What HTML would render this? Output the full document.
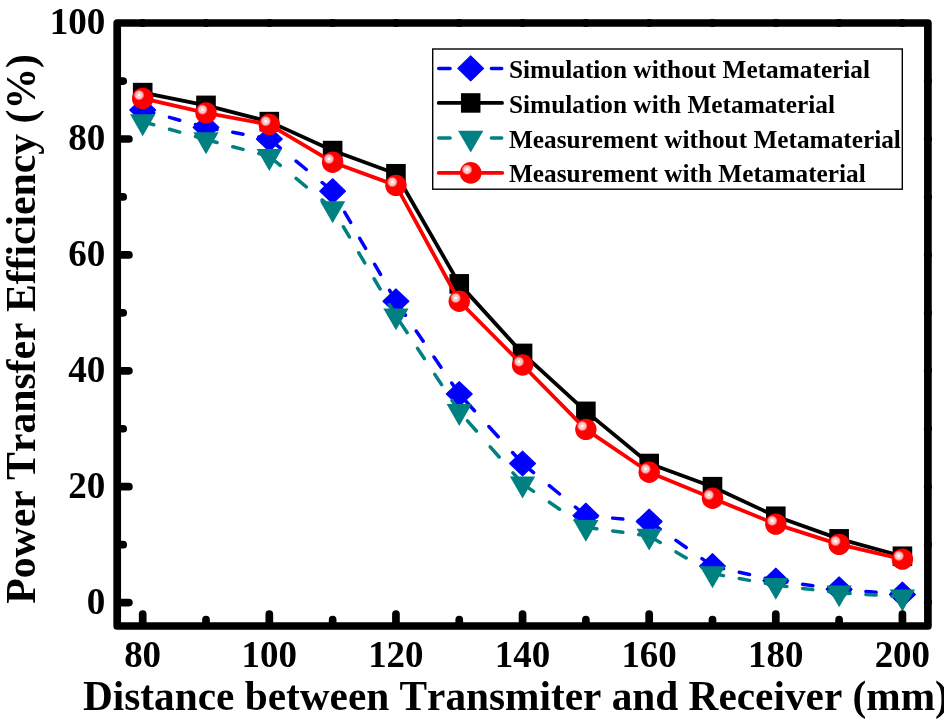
<!DOCTYPE html><html><head><meta charset="utf-8"><style>html,body{margin:0;padding:0;background:#fff;width:944px;height:724px;overflow:hidden}svg{display:block;will-change:transform}text{font-family:"Liberation Serif",serif;font-weight:bold;font-variant-ligatures:none;font-kerning:none}</style></head><body>
<svg width="944" height="724" viewBox="0 0 944 724">
<defs><radialGradient id="hl"><stop offset="0" stop-color="#fff"/><stop offset="0.2" stop-color="#fff"/><stop offset="0.35" stop-color="#ffc0c0"/><stop offset="0.55" stop-color="#ffd0d0"/><stop offset="0.75" stop-color="#ff8c8c"/><stop offset="1" stop-color="#ff0000"/></radialGradient></defs>
<rect width="944" height="724" fill="#fff"/>
<path d="M143.50 110.24L153.70 113.05M169.50 117.38L179.70 120.19M195.50 124.52L205.70 127.32M206.81 127.56L217.01 129.42M232.81 132.32L243.01 134.18M258.81 137.08L269.01 138.94M270.12 139.66L280.32 148.06M296.12 161.08L306.32 169.48M322.12 182.50L332.32 190.90M395.48 300.46L389.62 290.26M380.53 274.46L374.67 264.26M365.58 248.46L359.72 238.26M350.63 222.46L344.77 212.26M335.68 196.46L332.63 191.16M458.70 393.18L451.74 382.98M440.95 367.18L433.99 356.98M423.20 341.18L416.23 330.98M405.44 315.18L398.48 304.98M521.83 462.72L512.55 452.52M498.16 436.72L488.87 426.52M474.49 410.72L465.20 400.52M523.36 464.18L533.56 472.58M549.36 485.60L559.56 494.00M575.36 507.02L585.56 515.42M586.67 515.75L596.87 516.68M612.67 518.13L622.87 519.06M638.67 520.51L648.87 521.44M649.98 522.03L660.18 529.22M675.98 540.36L686.18 547.55M701.98 558.68L712.18 565.87M713.29 566.27L723.49 568.61M739.29 572.22L749.49 574.56M765.29 578.17L775.49 580.51M776.60 580.69L786.80 582.09M802.60 584.26L812.80 585.66M828.60 587.83L838.80 589.23M839.91 589.34L850.11 590.18M865.91 591.48L876.11 592.32M891.91 593.62L902.11 594.46" fill="none" stroke="#0000ff" stroke-width="3.5" stroke-linecap="round"/>
<path d="M142.70 97.64L155.60 110.03L142.70 122.41L129.80 110.03Z" fill="#0000ff" stroke="#0000ff" stroke-width="1.2" stroke-linejoin="round"/>
<path d="M206.01 115.03L218.91 127.41L206.01 139.79L193.11 127.41Z" fill="#0000ff" stroke="#0000ff" stroke-width="1.2" stroke-linejoin="round"/>
<path d="M269.32 126.62L282.22 139.00L269.32 151.38L256.42 139.00Z" fill="#0000ff" stroke="#0000ff" stroke-width="1.2" stroke-linejoin="round"/>
<path d="M332.63 178.77L345.53 191.16L332.63 203.54L319.73 191.16Z" fill="#0000ff" stroke="#0000ff" stroke-width="1.2" stroke-linejoin="round"/>
<path d="M395.94 288.88L408.84 301.26L395.94 313.64L383.04 301.26Z" fill="#0000ff" stroke="#0000ff" stroke-width="1.2" stroke-linejoin="round"/>
<path d="M459.25 381.60L472.15 393.98L459.25 406.36L446.35 393.98Z" fill="#0000ff" stroke="#0000ff" stroke-width="1.2" stroke-linejoin="round"/>
<path d="M522.56 451.14L535.46 463.52L522.56 475.90L509.66 463.52Z" fill="#0000ff" stroke="#0000ff" stroke-width="1.2" stroke-linejoin="round"/>
<path d="M585.87 503.29L598.77 515.68L585.87 528.06L572.97 515.68Z" fill="#0000ff" stroke="#0000ff" stroke-width="1.2" stroke-linejoin="round"/>
<path d="M649.18 509.09L662.08 521.47L649.18 533.85L636.28 521.47Z" fill="#0000ff" stroke="#0000ff" stroke-width="1.2" stroke-linejoin="round"/>
<path d="M712.49 553.71L725.39 566.09L712.49 578.48L699.59 566.09Z" fill="#0000ff" stroke="#0000ff" stroke-width="1.2" stroke-linejoin="round"/>
<path d="M775.80 568.20L788.70 580.58L775.80 592.96L762.90 580.58Z" fill="#0000ff" stroke="#0000ff" stroke-width="1.2" stroke-linejoin="round"/>
<path d="M839.11 576.89L852.01 589.27L839.11 601.66L826.21 589.27Z" fill="#0000ff" stroke="#0000ff" stroke-width="1.2" stroke-linejoin="round"/>
<path d="M902.42 582.10L915.32 594.49L902.42 606.87L889.52 594.49Z" fill="#0000ff" stroke="#0000ff" stroke-width="1.2" stroke-linejoin="round"/>
<polyline points="142.70,92.64 206.01,105.39 269.32,121.62 332.63,150.59 395.94,173.77 459.25,283.88 522.56,353.42 585.87,411.37 649.18,463.52 712.49,486.70 775.80,516.25 839.11,538.86 902.42,556.24" fill="none" stroke="#000" stroke-width="3.8" stroke-linejoin="round"/>
<rect x="132.90" y="82.84" width="19.6" height="19.6" fill="#000"/>
<rect x="196.21" y="95.59" width="19.6" height="19.6" fill="#000"/>
<rect x="259.52" y="111.82" width="19.6" height="19.6" fill="#000"/>
<rect x="322.83" y="140.79" width="19.6" height="19.6" fill="#000"/>
<rect x="386.14" y="163.97" width="19.6" height="19.6" fill="#000"/>
<rect x="449.45" y="274.07" width="19.6" height="19.6" fill="#000"/>
<rect x="512.76" y="343.62" width="19.6" height="19.6" fill="#000"/>
<rect x="576.07" y="401.56" width="19.6" height="19.6" fill="#000"/>
<rect x="639.38" y="453.72" width="19.6" height="19.6" fill="#000"/>
<rect x="702.69" y="476.90" width="19.6" height="19.6" fill="#000"/>
<rect x="766.00" y="506.45" width="19.6" height="19.6" fill="#000"/>
<rect x="829.31" y="529.06" width="19.6" height="19.6" fill="#000"/>
<rect x="892.62" y="546.44" width="19.6" height="19.6" fill="#000"/>
<path d="M143.50 121.84L153.70 124.74M169.50 129.22L179.70 132.11M195.50 136.60L205.70 139.49M206.81 139.79L217.01 142.50M232.81 146.69L243.01 149.40M258.81 153.60L269.01 156.30M270.12 157.04L280.32 165.45M296.12 178.46L306.32 186.87M322.12 199.88L332.32 208.28M395.47 314.95L389.44 304.75M380.11 288.95L374.09 278.75M364.76 262.95L358.74 252.75M349.41 236.95L343.38 226.75M334.05 210.95L332.63 208.54M458.72 410.56L451.97 400.37M441.51 384.56L434.75 374.37M424.29 358.56L417.54 348.37M407.08 332.56L400.32 322.37M521.86 483.00L512.95 472.80M499.14 457.00L490.22 446.80M476.41 431.00L467.50 420.80M523.36 484.35L533.56 491.35M549.36 502.20L559.56 509.20M575.36 520.05L585.56 527.05M586.67 527.37L596.87 528.78M612.67 530.94L622.87 532.35M638.67 534.51L648.87 535.91M649.98 536.43L660.18 542.50M675.98 551.90L686.18 557.97M701.98 567.37L712.18 573.44M713.29 573.77L723.49 575.64M739.29 578.53L749.49 580.40M765.29 583.29L775.49 585.16M776.60 585.31L786.80 586.52M802.60 588.40L812.80 589.62M828.60 591.50L838.80 592.71M839.91 592.80L850.11 593.45M865.91 594.47L876.11 595.12M891.91 596.13L902.11 596.79" fill="none" stroke="#008080" stroke-width="3.5" stroke-linecap="round"/>
<path d="M130.06 114.32L155.34 114.32L142.70 136.22Z" fill="#008080"/>
<path d="M193.37 132.28L218.65 132.28L206.01 154.18Z" fill="#008080"/>
<path d="M256.68 149.09L281.96 149.09L269.32 170.99Z" fill="#008080"/>
<path d="M319.99 201.24L345.27 201.24L332.63 223.14Z" fill="#008080"/>
<path d="M383.30 308.45L408.58 308.45L395.94 330.35Z" fill="#008080"/>
<path d="M446.61 404.06L471.89 404.06L459.25 425.97Z" fill="#008080"/>
<path d="M509.92 476.50L535.20 476.50L522.56 498.40Z" fill="#008080"/>
<path d="M573.23 519.97L598.51 519.97L585.87 541.87Z" fill="#008080"/>
<path d="M636.54 528.66L661.82 528.66L649.18 550.56Z" fill="#008080"/>
<path d="M699.85 566.33L725.13 566.33L712.49 588.23Z" fill="#008080"/>
<path d="M763.16 577.92L788.44 577.92L775.80 599.82Z" fill="#008080"/>
<path d="M826.47 585.45L851.75 585.45L839.11 607.35Z" fill="#008080"/>
<path d="M889.78 589.51L915.06 589.51L902.42 611.41Z" fill="#008080"/>
<polyline points="142.70,98.44 206.01,112.92 269.32,124.51 332.63,162.18 395.94,185.36 459.25,301.26 522.56,365.00 585.87,429.33 649.18,472.21 712.49,498.29 775.80,524.08 839.11,544.36 902.42,559.14" fill="none" stroke="#ff0000" stroke-width="3.8" stroke-linejoin="round"/>
<circle cx="142.70" cy="98.44" r="10.7" fill="#ff0000"/><circle cx="139.10" cy="95.14" r="5.4" fill="url(#hl)"/>
<circle cx="206.01" cy="112.92" r="10.7" fill="#ff0000"/><circle cx="202.41" cy="109.62" r="5.4" fill="url(#hl)"/>
<circle cx="269.32" cy="124.51" r="10.7" fill="#ff0000"/><circle cx="265.72" cy="121.21" r="5.4" fill="url(#hl)"/>
<circle cx="332.63" cy="162.18" r="10.7" fill="#ff0000"/><circle cx="329.03" cy="158.88" r="5.4" fill="url(#hl)"/>
<circle cx="395.94" cy="185.36" r="10.7" fill="#ff0000"/><circle cx="392.34" cy="182.06" r="5.4" fill="url(#hl)"/>
<circle cx="459.25" cy="301.26" r="10.7" fill="#ff0000"/><circle cx="455.65" cy="297.96" r="5.4" fill="url(#hl)"/>
<circle cx="522.56" cy="365.00" r="10.7" fill="#ff0000"/><circle cx="518.96" cy="361.70" r="5.4" fill="url(#hl)"/>
<circle cx="585.87" cy="429.33" r="10.7" fill="#ff0000"/><circle cx="582.27" cy="426.03" r="5.4" fill="url(#hl)"/>
<circle cx="649.18" cy="472.21" r="10.7" fill="#ff0000"/><circle cx="645.58" cy="468.91" r="5.4" fill="url(#hl)"/>
<circle cx="712.49" cy="498.29" r="10.7" fill="#ff0000"/><circle cx="708.89" cy="494.99" r="5.4" fill="url(#hl)"/>
<circle cx="775.80" cy="524.08" r="10.7" fill="#ff0000"/><circle cx="772.20" cy="520.78" r="5.4" fill="url(#hl)"/>
<circle cx="839.11" cy="544.36" r="10.7" fill="#ff0000"/><circle cx="835.51" cy="541.06" r="5.4" fill="url(#hl)"/>
<circle cx="902.42" cy="559.14" r="10.7" fill="#ff0000"/><circle cx="898.82" cy="555.84" r="5.4" fill="url(#hl)"/>
<path d="M120.2 602.60H128.90M120.2 544.65H123.20M120.2 486.70H128.90M120.2 428.75H123.20M120.2 370.80H128.90M120.2 312.85H123.20M120.2 254.90H128.90M120.2 196.95H123.20M120.2 139.00H128.90M120.2 81.05H123.20M142.70 623.0V614.10M206.01 623.0V619.70M269.32 623.0V614.10M332.63 623.0V619.70M395.94 623.0V614.10M459.25 623.0V619.70M522.56 623.0V614.10M585.87 623.0V619.70M649.18 623.0V614.10M712.49 623.0V619.70M775.80 623.0V614.10M839.11 623.0V619.70M902.42 623.0V614.10" stroke="#000" stroke-width="7.7" stroke-linecap="round" fill="none"/>
<rect x="117.2" y="23.0" width="810.70" height="603.00" fill="none" stroke="#000" stroke-width="7.7" stroke-linejoin="round"/>
<g fill="#000"><circle cx="142.70" cy="23.0" r="4.05"/><circle cx="206.01" cy="23.0" r="4.05"/><circle cx="269.32" cy="23.0" r="4.05"/><circle cx="332.63" cy="23.0" r="4.05"/><circle cx="395.94" cy="23.0" r="4.05"/><circle cx="459.25" cy="23.0" r="4.05"/><circle cx="522.56" cy="23.0" r="4.05"/><circle cx="585.87" cy="23.0" r="4.05"/><circle cx="649.18" cy="23.0" r="4.05"/><circle cx="712.49" cy="23.0" r="4.05"/><circle cx="775.80" cy="23.0" r="4.05"/><circle cx="839.11" cy="23.0" r="4.05"/><circle cx="902.42" cy="23.0" r="4.05"/><circle cx="927.9" cy="602.60" r="4.05"/><circle cx="927.9" cy="544.65" r="4.05"/><circle cx="927.9" cy="486.70" r="4.05"/><circle cx="927.9" cy="428.75" r="4.05"/><circle cx="927.9" cy="370.80" r="4.05"/><circle cx="927.9" cy="312.85" r="4.05"/><circle cx="927.9" cy="254.90" r="4.05"/><circle cx="927.9" cy="196.95" r="4.05"/><circle cx="927.9" cy="139.00" r="4.05"/><circle cx="927.9" cy="81.05" r="4.05"/></g>
<text transform="translate(105.4 613.50) scale(0.99 1.035)" font-size="37.5" text-anchor="end">0</text>
<text transform="translate(105.4 497.60) scale(0.99 1.035)" font-size="37.5" text-anchor="end">20</text>
<text transform="translate(105.4 381.70) scale(0.99 1.035)" font-size="37.5" text-anchor="end">40</text>
<text transform="translate(105.4 265.80) scale(0.99 1.035)" font-size="37.5" text-anchor="end">60</text>
<text transform="translate(105.4 149.90) scale(0.99 1.035)" font-size="37.5" text-anchor="end">80</text>
<text transform="translate(105.4 34.00) scale(0.99 1.035)" font-size="37.5" text-anchor="end">100</text>
<text transform="translate(142.60 667.2) scale(0.985 1.03)" font-size="37.5" text-anchor="middle">80</text>
<text transform="translate(269.22 667.2) scale(0.985 1.03)" font-size="37.5" text-anchor="middle">100</text>
<text transform="translate(395.84 667.2) scale(0.985 1.03)" font-size="37.5" text-anchor="middle">120</text>
<text transform="translate(522.46 667.2) scale(0.985 1.03)" font-size="37.5" text-anchor="middle">140</text>
<text transform="translate(649.08 667.2) scale(0.985 1.03)" font-size="37.5" text-anchor="middle">160</text>
<text transform="translate(775.70 667.2) scale(0.985 1.03)" font-size="37.5" text-anchor="middle">180</text>
<text transform="translate(902.32 667.2) scale(0.985 1.03)" font-size="37.5" text-anchor="middle">200</text>
<text x="83" y="709.8" font-size="41.3">Distance between Transmiter and Receiver (mm)</text>
<text transform="translate(35.3 603.7) rotate(-90) scale(0.9925 1)" font-size="42">Power Transfer Efficiency (%)</text>
<rect x="432.7" y="49" width="469.6" height="140.2" fill="#fff" stroke="#000" stroke-width="1.4"/>
<path d="M438.7 68.6H450.1M491.4 68.6H501.7" stroke="#0000ff" stroke-width="3.5" stroke-linecap="round"/>
<path d="M470.70 55.90L483.55 68.40L470.70 80.90L457.85 68.40Z" fill="#0000ff" stroke="#0000ff" stroke-width="1.2" stroke-linejoin="round"/>
<path d="M438.7 102.95H502.1" stroke="#000" stroke-width="3.7" stroke-linecap="round"/>
<rect x="460.95" y="93.20" width="19.5" height="19.5" fill="#000"/>
<path d="M438.7 138.0H450.1M491.4 138.0H501.7" stroke="#008080" stroke-width="3.5" stroke-linecap="round"/>
<path d="M458.06 130.70L483.34 130.70L470.70 152.60Z" fill="#008080"/>
<path d="M438.7 172.9H502.3" stroke="#ff0000" stroke-width="3.7" stroke-linecap="round"/>
<circle cx="470.70" cy="172.90" r="10.8" fill="#ff0000"/><circle cx="467.10" cy="169.60" r="5.4" fill="url(#hl)"/>
<text transform="translate(509 78.4) scale(1 1.03)" font-size="25.3">Simulation without Metamaterial</text>
<text transform="translate(509 113.3) scale(1 1.03)" font-size="25.3">Simulation with Metamaterial</text>
<text transform="translate(509 147.8) scale(1 1.03)" font-size="25.3">Measurement without Metamaterial</text>
<text transform="translate(509 181.9) scale(1 1.03)" font-size="25.3">Measurement with Metamaterial</text>
</svg></body></html>
